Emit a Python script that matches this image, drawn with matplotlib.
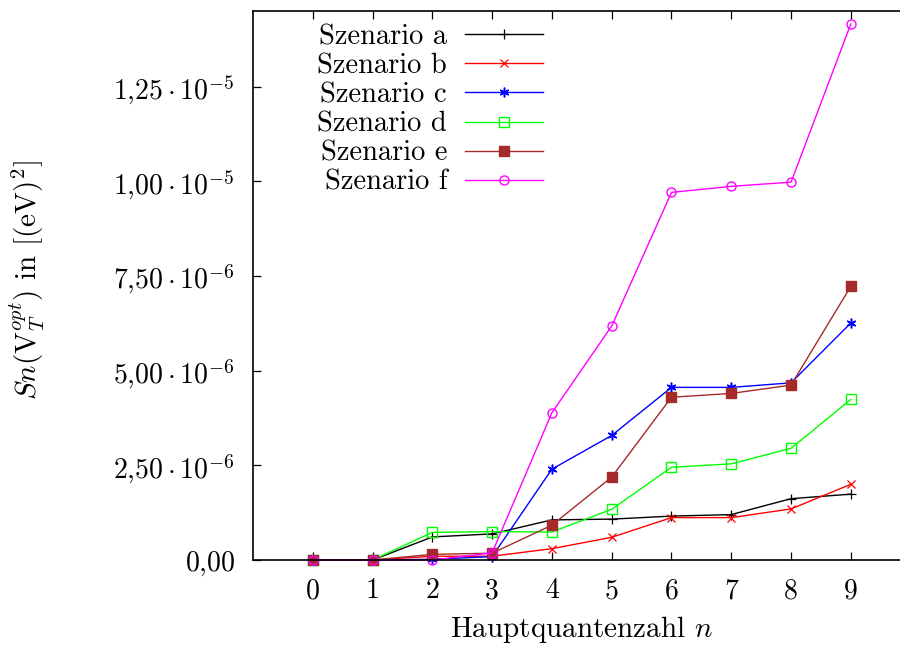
import matplotlib
matplotlib.use("Agg")
import matplotlib.pyplot as plt

plt.rcParams["font.family"] = "serif"
plt.rcParams["font.serif"] = ["cmr10"]
plt.rcParams["mathtext.fontset"] = "cm"
plt.rcParams["axes.unicode_minus"] = False

n = [0, 1, 2, 3, 4, 5, 6, 7, 8, 9]

# values in 1e-6 (eV)^2
sz_a = [0, 0, 0.61, 0.69, 1.06, 1.08, 1.16, 1.20, 1.62, 1.74]
sz_b = [0, 0, 0.10, 0.10, 0.30, 0.60, 1.12, 1.12, 1.35, 2.00]
sz_c = [0, 0, 0.02, 0.09, 2.40, 3.29, 4.56, 4.56, 4.68, 6.26]
sz_d = [0, 0, 0.73, 0.75, 0.74, 1.34, 2.45, 2.54, 2.95, 4.24]
sz_e = [0, 0, 0.15, 0.18, 0.92, 2.19, 4.30, 4.40, 4.62, 7.23]
sz_f = [0, 0, 0.00, 0.19, 3.89, 6.18, 9.71, 9.87, 9.98, 14.16]

labels = ["Szenario a", "Szenario b", "Szenario c",
          "Szenario d", "Szenario e", "Szenario f"]
colors = ["black", "#ff0000", "#0000ff", "#00ff00", "#a52a2a", "#ff00ff"]

ytick_vals = [0, 2.5, 5.0, 7.5, 10.0, 12.5]
ytick_labels = [r"$0{,}00$",
                r"$2{,}50\cdot10^{-6}$",
                r"$5{,}00\cdot10^{-6}$",
                r"$7{,}50\cdot10^{-6}$",
                r"$1{,}00\cdot10^{-5}$",
                r"$1{,}25\cdot10^{-5}$"]

fig = plt.figure(figsize=(9, 6.46), dpi=100)
ax = fig.add_axes([0.2811, 0.1331, 0.7307, 0.8498])

scale = 1e-6
series = [sz_a, sz_b, sz_c, sz_d, sz_e, sz_f]
styles = [
    dict(marker="+", markersize=7, markeredgewidth=0.9),
    dict(marker="x", markersize=6, markeredgewidth=0.9),
    dict(marker=(6, 2, 0), markersize=7, markeredgewidth=1.1),
    dict(marker="s", markersize=6.5, markerfacecolor="none", markeredgewidth=1.0),
    dict(marker="s", markersize=6.5),
    dict(marker="o", markersize=6.5, markerfacecolor="none", markeredgewidth=1.0),
]
for vals, lab, col, st in zip(series, labels, colors, styles):
    ax.plot(n, [v * scale for v in vals], color=col, lw=1.0, label=lab,
            clip_on=False, **st)

ax.set_xlim(-1, 10)
ax.set_ylim(0, 14.5 * scale)
ax.set_xticks(n)
ax.set_xticklabels([str(i) for i in n])
ax.set_yticks([v * scale for v in ytick_vals])
ax.set_yticklabels(ytick_labels)

ax.tick_params(direction="in", length=5.5, width=0.9, top=True,
               labelsize=20, pad=13)
for sp in ax.spines.values():
    sp.set_linewidth(1.2)

ax.set_xlabel(r"Hauptquantenzahl $n$", fontsize=21, labelpad=7)
ax.set_ylabel(r"$Sn(\mathrm{V}_T^{opt})$ in $[(\mathrm{eV})^2]$", fontsize=21)
ax.yaxis.set_label_coords(-0.313, 0.51)

leg = ax.legend(loc="upper right", bbox_to_anchor=(0.441, 0.977),
                markerfirst=False, frameon=False, fontsize=20.5,
                handlelength=2.74, handletextpad=0.63, labelspacing=0.1,
                borderpad=0, borderaxespad=0)
for col in leg._legend_handle_box.get_children():
    col.align = "right"

fig.savefig("out.png", dpi=100)
